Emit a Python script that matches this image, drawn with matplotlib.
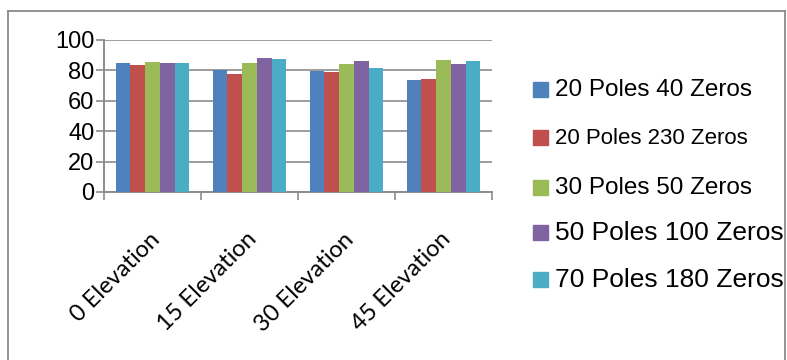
import matplotlib
matplotlib.use("Agg")
import matplotlib.pyplot as plt
from matplotlib.patches import Rectangle
from matplotlib.lines import Line2D
import numpy as np

categories = ["0 Elevation", "15 Elevation", "30 Elevation", "45 Elevation"]
series_names = ["20 Poles 40 Zeros", "20 Poles 230 Zeros", "30 Poles 50 Zeros",
                "50 Poles 100 Zeros", "70 Poles 180 Zeros"]
s_20p40z = [84.7, 80.0, 79.6, 73.7]
s_20p230z = [83.3, 77.6, 79.0, 74.6]
s_30p50z = [85.7, 85.0, 84.0, 86.8]
s_50p100z = [85.0, 88.2, 86.2, 84.4]
s_70p180z = [85.0, 87.5, 81.6, 86.2]
series_values = [s_20p40z, s_20p230z, s_30p50z, s_50p100z, s_70p180z]
colors = ["#4F81BD", "#C0504D", "#9BBB59", "#8064A2", "#4BACC6"]
y_ticks = [0, 20, 40, 60, 80, 100]

W, H = 787, 360
fig = plt.figure(figsize=(W / 100, H / 100), dpi=100)
fig.patch.set_facecolor("white")

# outer chart frame (bottom edge runs off the canvas)
frame_col = "#8a8a8a"
for xs, ys in [((8, 8), (11, H + 5)), ((8, 785), (11, 11)), ((785, 785), (11, H + 5))]:
    fig.add_artist(Line2D([x / W for x in xs], [1 - y / H for y in ys],
                          color=frame_col, lw=1.3, transform=fig.transFigure))

ax = fig.add_axes([104 / W, 1 - 192 / H, (492 - 104) / W, (192 - 40) / H])
n = len(series_names)
group_w = 0.76
bw = group_w / n
x = np.arange(len(categories))
for i, (vals, c) in enumerate(zip(series_values, colors)):
    ax.bar(x - group_w / 2 + bw * (i + 0.5), vals, width=bw, color=c,
           edgecolor="none", zorder=3)

ax.set_xlim(-0.5, len(categories) - 0.5)
ax.set_ylim(0, 100)
ax.set_yticks(y_ticks)
ax.set_yticklabels([str(t) for t in y_ticks], fontsize=17, family="Liberation Sans")
ax.yaxis.grid(True, color="#8c8c8c", lw=1.2, zorder=0)
ax.tick_params(axis="y", length=6, width=1.2, color="#8c8c8c", pad=1)

# category boundary ticks on the x-axis
ax.set_xticks(np.arange(len(categories) + 1) - 0.5, minor=False)
ax.set_xticklabels([])
ax.tick_params(axis="x", which="major", length=6, width=1.2, color="#8c8c8c")
for xi, lab in zip(x, categories):
    ax.annotate(lab, xy=(xi, 0), xycoords=("data", "axes fraction"),
                xytext=(4, -44), textcoords="offset pixels",
                rotation=45, ha="right", va="center", rotation_mode="anchor",
                fontsize=17, family="Lato", color="black")

for side in ["top", "right"]:
    ax.spines[side].set_visible(False)
ax.spines["left"].set_color("#8c8c8c")
ax.spines["left"].set_linewidth(1.4)
ax.spines["bottom"].set_color("#8c8c8c")
ax.spines["bottom"].set_linewidth(1.4)
ax.set_facecolor("white")

# legend drawn as swatches and labels
leg_y = [90, 138, 188, 233, 280]
leg_fs = [17.5, 16, 17.5, 19, 19]
for name, c, yy, fs in zip(series_names, colors, leg_y, leg_fs):
    fig.add_artist(Rectangle((533 / W, 1 - (yy + 7) / H), 15 / W, 15 / H,
                             color=c, transform=fig.transFigure))
    fig.text(555 / W, 1 - yy / H, name, fontsize=fs, family="Liberation Sans",
             va="center", ha="left", color="black")

fig.savefig("out.png", dpi=100, facecolor="white")
